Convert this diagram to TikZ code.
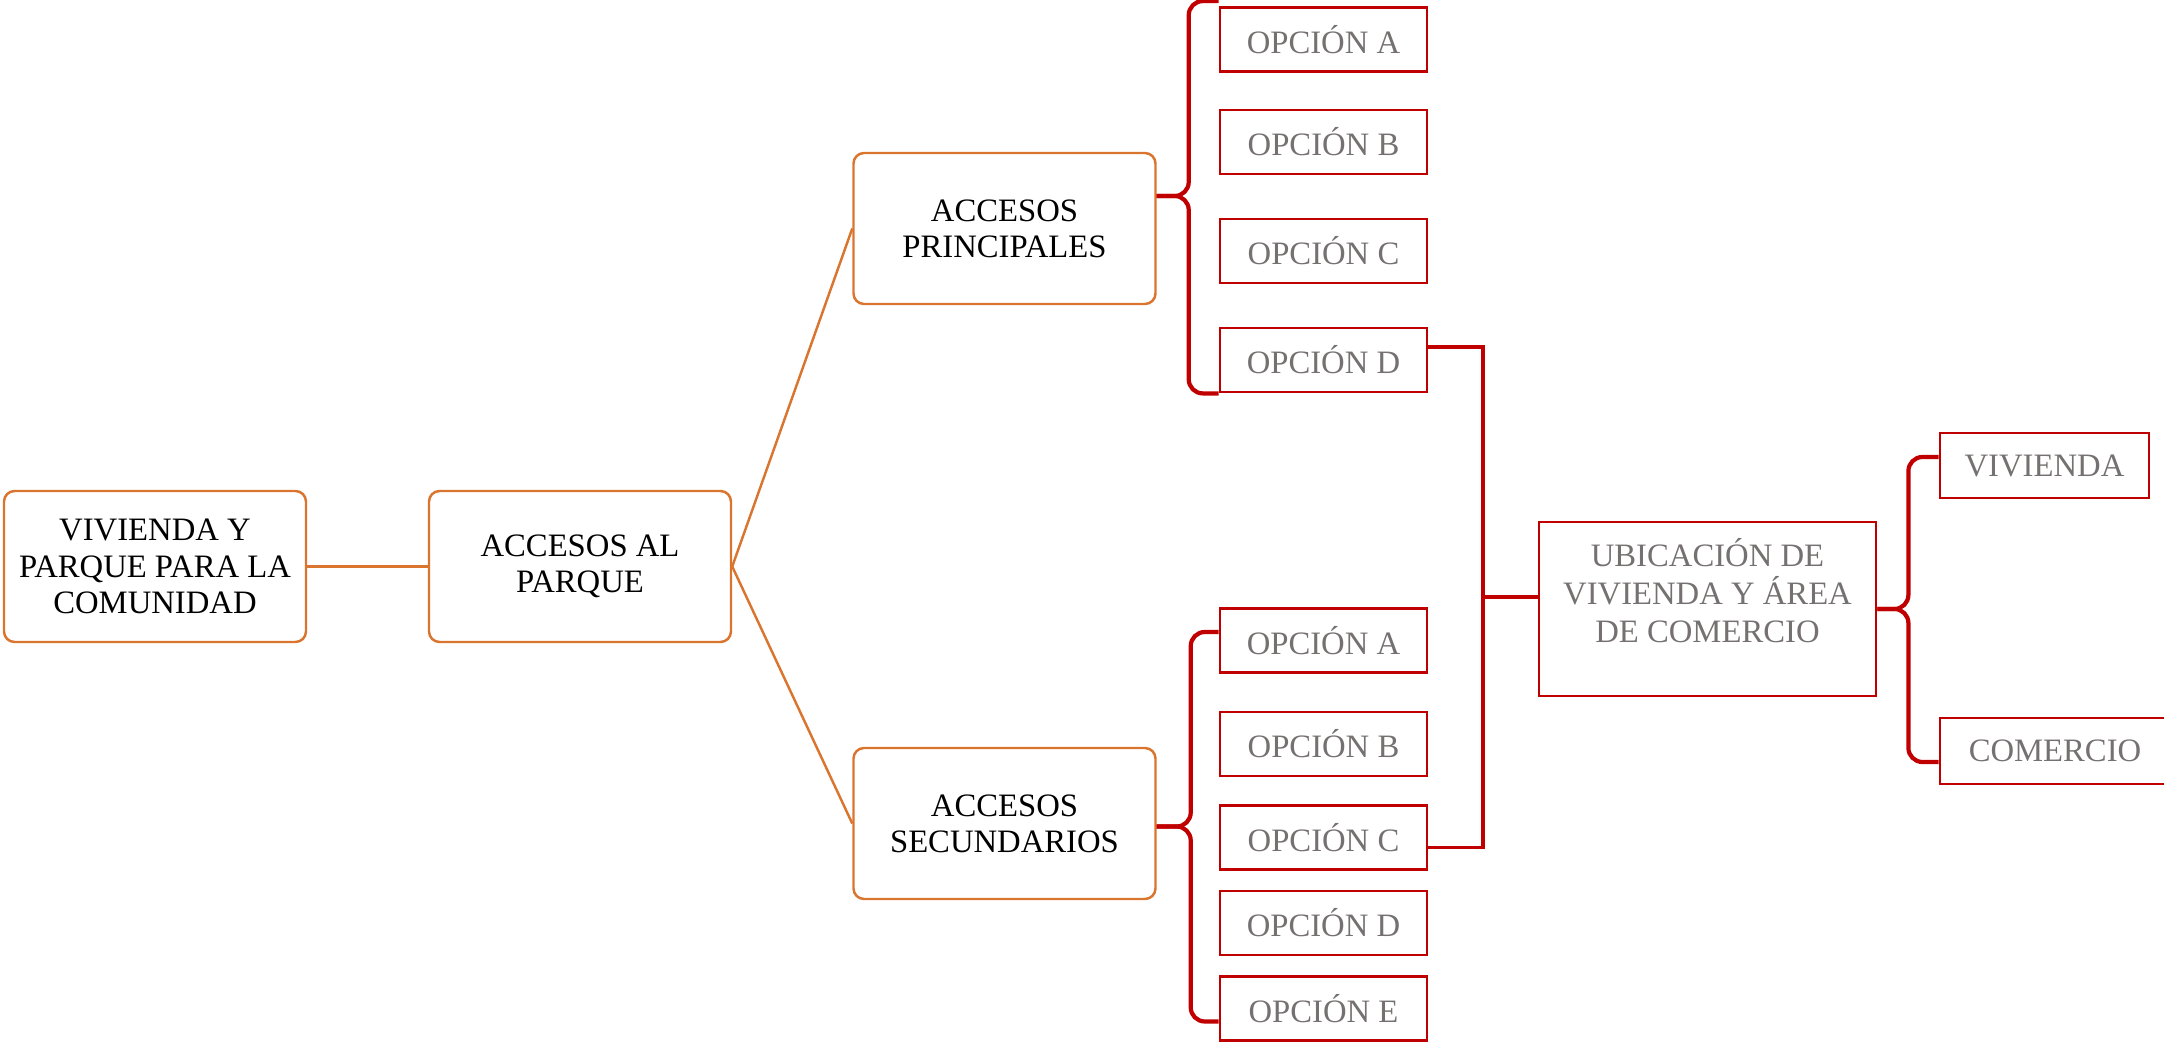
\documentclass[tikz,border=0pt]{standalone}
\usepackage{fontspec}
\setmainfont{Liberation Serif}
\usetikzlibrary{positioning}
\definecolor{naranja}{RGB}{218,117,48}
\definecolor{rojo}{RGB}{192,0,0}
\definecolor{gris}{RGB}{118,113,113}

\begin{document}
\begin{tikzpicture}[
tema/.style={rectangle, rounded corners=3pt, draw=naranja, line width=0.7pt, minimum width=3.02cm, minimum height=1.51cm, align=center, font=\fontsize{9.3}{10.3}\selectfont},
opcion/.style={rectangle, draw=rojo, line width=0.8pt, minimum width=2.07cm, minimum height=0.64cm, align=center, text=gris, font=\fontsize{9.3}{10.8}\selectfont},
rama/.style={draw=naranja, line width=0.7pt},
llave/.style={draw=rojo, line width=1.2pt, rounded corners=4pt},
enlace/.style={draw=rojo, line width=1.1pt}
]
\useasboundingbox (0,0) rectangle (21.64,-10.45);
% temas
\node[tema] (vivpar) at (1.55,-5.665) {VIVIENDA Y\\PARQUE PARA LA\\COMUNIDAD};
\node[tema] (accpar) at (5.80,-5.665) {ACCESOS AL\\PARQUE};
\node[tema] (accpri) at (10.045,-2.285) {ACCESOS\\PRINCIPALES};
\node[tema] (accsec) at (10.045,-8.235) {ACCESOS\\SECUNDARIOS};
% opciones principales
\node[opcion] (pA) at (13.235,-0.395) {OPCIÓN A};
\node[opcion] (pB) at (13.235,-1.42) {OPCIÓN B};
\node[opcion] (pC) at (13.235,-2.51) {OPCIÓN C};
\node[opcion] (pD) at (13.235,-3.60) {OPCIÓN D};
% opciones secundarias
\node[opcion] (sA) at (13.235,-6.405) {OPCIÓN A};
\node[opcion] (sB) at (13.235,-7.44) {OPCIÓN B};
\node[opcion] (sC) at (13.235,-8.375) {OPCIÓN C};
\node[opcion] (sD) at (13.235,-9.23) {OPCIÓN D};
\node[opcion] (sE) at (13.235,-10.085) {OPCIÓN E};
% ubicacion
\node[opcion, minimum width=3.37cm, minimum height=1.74cm] (ubi) at (17.075,-6.09) {UBICACIÓN DE\\VIVIENDA Y ÁREA\\DE COMERCIO\\\mbox{}};
\node[opcion, minimum width=2.09cm, minimum height=0.65cm] (viv) at (20.445,-4.655) {VIVIENDA};
\node[opcion, minimum width=2.30cm, minimum height=0.66cm] (com) at (20.55,-7.51) {COMERCIO};
\coordinate (bus) at (14.83,-5.97);

\draw[rama] (vivpar) -- (accpar);
\draw[rama] (accpar.east) -- (accpri.west);
\draw[rama] (accpar.east) -- (accsec.west);

\draw[llave] ([yshift=0.05cm]pA.north west) -| ([xshift=0.32cm,yshift=0.325cm]accpri.east) -- ([yshift=0.325cm]accpri.east);
\draw[llave] (pD.south west) -| ([xshift=0.32cm,yshift=0.325cm]accpri.east) -- ([yshift=0.325cm]accpri.east);
\draw[llave] ([yshift=0.085cm]sA.west) -| ([xshift=0.34cm,yshift=-0.03cm]accsec.east) -- ([yshift=-0.03cm]accsec.east);
\draw[llave] ([yshift=-0.13cm]sE.west) -| ([xshift=0.34cm,yshift=-0.03cm]accsec.east) -- ([yshift=-0.03cm]accsec.east);
\draw[llave] ([yshift=0.085cm]viv.west) -| ([xshift=0.31cm]ubi.east) -- (ubi.east);
\draw[llave] ([yshift=-0.11cm]com.west) -| ([xshift=0.31cm]ubi.east) -- (ubi.east);

\draw[enlace] ([yshift=0.13cm]pD.east) -| (bus) |- ([yshift=-0.1cm]sC.east);
\draw[enlace] (bus) -- (bus -| ubi.west);
\end{tikzpicture}
\end{document}
